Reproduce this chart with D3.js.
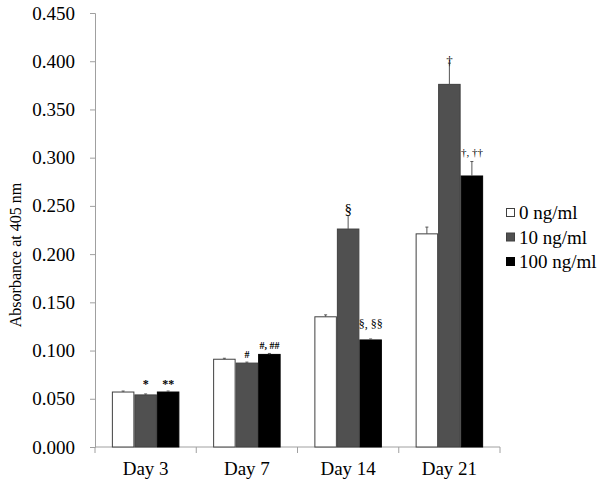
<!DOCTYPE html>
<html>
<head>
<meta charset="utf-8">
<script src="https://cdn.jsdelivr.net/npm/d3@7"></script>
<style>
  html, body { margin: 0; padding: 0; background: #fff; }
  svg { display: block; font-family: "Liberation Serif", "Times New Roman", serif; }
</style>
</head>
<body>
<svg id="chart" width="602" height="486"></svg>
<script>
// ---- data ----
const days = ["Day 3", "Day 7", "Day 14", "Day 21"];
const seriesNames = ["0 ng/ml", "10 ng/ml", "100 ng/ml"];
const values0 = [0.057, 0.091, 0.135, 0.221];
const values10 = [0.054, 0.087, 0.226, 0.376];
const values100 = [0.057, 0.096, 0.111, 0.281];
const errors0 = [0.001, 0.001, 0.002, 0.007];
const errors10 = [0.001, 0.001, 0.014, 0.022];
const errors100 = [0.001, 0.001, 0.001, 0.015];
const marks10 = ["*", "#", "§", "†"];
const marks100 = ["**", "#, ##", "§, §§", "†, ††"];
const yTicks = [0, 0.05, 0.1, 0.15, 0.2, 0.25, 0.3, 0.35, 0.4, 0.45];
const yTitle = "Absorbance at 405 nm";

const fills = ["#ffffff", "#505050", "#000000"];
const strokes = ["#404040", "#404040", "#000000"];
const FONT = "'Liberation Serif', 'Times New Roman', serif";

const svg = d3.select("#chart");
const mLeft = 95, mRight = 500, mTop = 13, mBottom = 447;

const y = d3.scaleLinear().domain([0, 0.45]).range([mBottom, mTop]);
const x0 = d3.scaleBand().domain(days).range([mLeft, mRight]).paddingInner(1/3).paddingOuter(1/6);
const x1 = d3.scaleBand().domain(seriesNames).range([0, x0.bandwidth()]);

const allVals = [values0, values10, values100];
const allErr = [errors0, errors10, errors100];

// y axis
const yAxis = d3.axisLeft(y).tickValues(yTicks).tickFormat(d3.format(".3f")).tickSize(5).tickPadding(15);
const gy = svg.append("g").attr("transform", `translate(${mLeft},0)`).call(yAxis)
  .attr("font-family", FONT).attr("font-size", 19);
gy.select(".domain").attr("stroke", "#a0a0a0");
gy.selectAll(".tick line").attr("stroke", "#a0a0a0");
gy.selectAll(".tick text").attr("fill", "#000");

// x axis
const xb = d3.scaleLinear().domain([0, days.length]).range([mLeft, mRight]);
const gx = svg.append("g").attr("transform", `translate(0,${mBottom})`);
gx.append("line").attr("x1", mLeft).attr("x2", mRight).attr("y1", 0).attr("y2", 0).attr("stroke", "#a0a0a0");
gx.selectAll("line.bt").data(d3.range(days.length + 1)).join("line")
  .attr("class", "bt")
  .attr("x1", d => xb(d)).attr("x2", d => xb(d))
  .attr("y1", 0).attr("y2", 6).attr("stroke", "#a0a0a0");
gx.selectAll("text").data(days).join("text")
  .attr("x", d => x0(d) + x0.bandwidth() / 2)
  .attr("y", 28)
  .attr("text-anchor", "middle")
  .attr("font-size", 19)
  .text(d => d);

// bars
seriesNames.forEach((s, si) => {
  const g = svg.append("g");
  g.selectAll("rect").data(days).join("rect")
    .attr("x", (d, i) => x0(d) + x1(s) + 0.5)
    .attr("y", (d, i) => y(allVals[si][i]))
    .attr("width", x1.bandwidth() - 1)
    .attr("height", (d, i) => mBottom - y(allVals[si][i]))
    .attr("fill", fills[si])
    .attr("stroke", strokes[si])
    .attr("stroke-width", 1);
  g.selectAll("line.err").data(days).join("line")
    .attr("class", "err")
    .attr("x1", (d, i) => x0(d) + x1(s) + x1.bandwidth() / 2)
    .attr("x2", (d, i) => x0(d) + x1(s) + x1.bandwidth() / 2)
    .attr("y1", (d, i) => y(allVals[si][i]))
    .attr("y2", (d, i) => y(allVals[si][i] + allErr[si][i]))
    .attr("stroke", "#555").attr("stroke-width", 1);
  g.selectAll("line.cap").data(days).join("line")
    .attr("class", "cap")
    .attr("x1", (d, i) => x0(d) + x1(s) + x1.bandwidth() / 2 - 1.5)
    .attr("x2", (d, i) => x0(d) + x1(s) + x1.bandwidth() / 2 + 1.5)
    .attr("y1", (d, i) => y(allVals[si][i] + allErr[si][i]))
    .attr("y2", (d, i) => y(allVals[si][i] + allErr[si][i]))
    .attr("stroke", "#555").attr("stroke-width", 1);
});

// significance marks
const markStyle = {
  "10 ng/ml":  { size: [12, 10, 15, 13], weight: ["bold", "bold", "normal", "normal"], gap: [-2, 4, 1.5, -2] },
  "100 ng/ml": { size: [12, 10, 12, 11], weight: ["bold", "bold", "normal", "normal"], gap: [-5, 4, 11, 5.5] }
};
[[marks10, values10, errors10, "10 ng/ml"], [marks100, values100, errors100, "100 ng/ml"]].forEach(([m, v, e, s]) => {
  const st = markStyle[s];
  svg.append("g").selectAll("text").data(days).join("text")
    .attr("x", (d, i) => x0(d) + x1(s) + x1.bandwidth() / 2)
    .attr("y", (d, i) => y(v[i] + e[i]) - st.gap[i] - (i === 0 ? 8 : 0))
    .attr("text-anchor", "middle")
    .attr("font-size", (d, i) => st.size[i])
    .attr("font-weight", (d, i) => st.weight[i])
    .text((d, i) => m[i]);
});

// y title
svg.append("text")
  .attr("transform", "translate(21,255) rotate(-90)")
  .attr("text-anchor", "middle")
  .attr("font-size", 16)
  .text(yTitle);

// legend
const lg = svg.append("g").attr("transform", "translate(506,208)");
seriesNames.forEach((s, i) => {
  lg.append("rect").attr("x", 0.5).attr("y", i * 24.5 + 0.5).attr("width", 8).attr("height", 8)
    .attr("fill", fills[i]).attr("stroke", strokes[i]);
  lg.append("text").attr("x", 13).attr("y", i * 24.5 + 11).attr("font-size", 19).text(s);
});
</script>
</body>
</html>
